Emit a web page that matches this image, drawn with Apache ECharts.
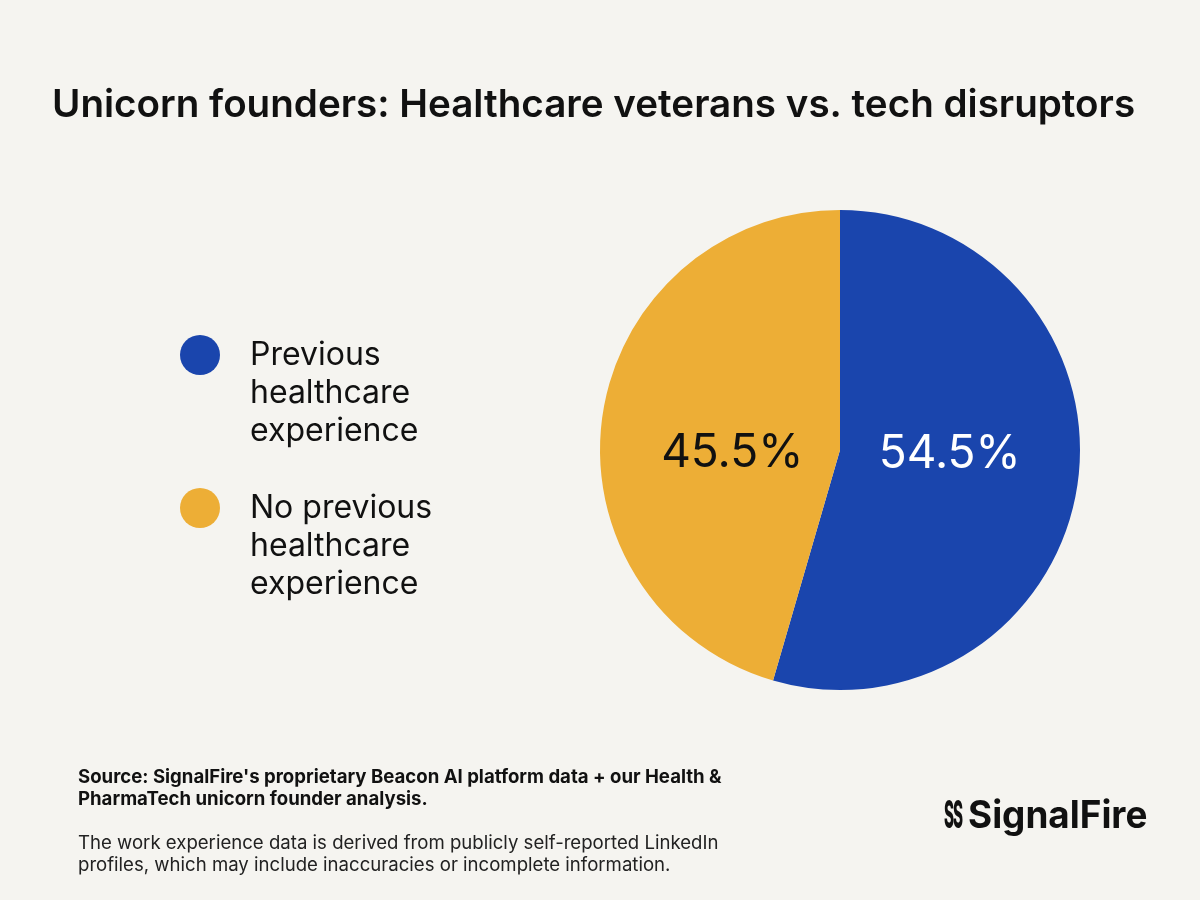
<!DOCTYPE html>
<html>
<head>
<meta charset="utf-8">
<script src="https://cdn.jsdelivr.net/npm/echarts@6/dist/echarts.min.js"></script>
<style>
  html, body { margin: 0; padding: 0; background: #f5f4f0; }
  #chart { width: 1200px; height: 900px; }
</style>
</head>
<body>
<div id="chart"></div>
<script>
// data
const categories = ['Previous\nhealthcare\nexperience', 'No previous\nhealthcare\nexperience']
const shares = [54.5, 45.5]
const colors = ['#1a45ad', '#edae36']
const labelColors = ['#ffffff', '#111111']

const titleText = 'Unicorn founders: Healthcare veterans vs. tech disruptors'
const sourceLines = [
  "Source: SignalFire's proprietary Beacon AI platform data + our Health &",
  'PharmaTech unicorn founder analysis.'
]
const noteLines = [
  'The work experience data is derived from publicly self-reported LinkedIn',
  'profiles, which may include inaccuracies or incomplete information.'
]

const font = 'Inter, "Noto Sans", sans-serif'
const chart = echarts.init(document.getElementById('chart'))

// one legend per item; two blank lines first so the dot sits on the first text line
const legendTops = [260, 413]
const legends = categories.map((name, i) => ({
  orient: 'vertical',
  left: 180,
  top: legendTops[i],
  padding: 0,
  icon: 'circle',
  itemWidth: 40,
  itemHeight: 40,
  selectedMode: false,
  data: [name],
  formatter: (n) => '\n\n' + n,
  textStyle: {
    fontFamily: font,
    fontSize: 32,
    lineHeight: 38,
    color: '#111',
    padding: [0, 0, 0, 25]
  }
}))

let option = {
  backgroundColor: '#f5f4f0',
  animation: false,
  title: {
    text: titleText,
    left: 47,
    top: 81,
    textStyle: { fontFamily: font, fontSize: 38.6, fontWeight: 600, color: '#111' }
  },
  legend: legends,
  graphic: [
    {
      type: 'text', left: 78, top: 766,
      style: { text: sourceLines.join('\n'), font: '700 18.6px ' + font, lineHeight: 22, fill: '#111' }
    },
    {
      type: 'text', left: 78, top: 832,
      style: { text: noteLines.join('\n'), font: '400 18.6px ' + font, lineHeight: 22, fill: '#222' }
    },
    // logo mark: two narrow S shapes, then the wordmark
    {
      type: 'text', x: 944, y: 798, scaleX: 0.4,
      style: { text: 'S', font: '800 38px ' + font, fill: '#111' }
    },
    {
      type: 'text', x: 953, y: 798, scaleX: 0.4,
      style: { text: 'S', font: '800 38px ' + font, fill: '#111' }
    },
    {
      type: 'text', x: 968, y: 798, scaleX: 0.97,
      style: { text: 'SignalFire', font: '700 38px ' + font, fill: '#111' }
    }
  ],
  series: [{
    type: 'pie',
    center: [840, 450],
    radius: [0, 240],
    startAngle: 90,
    clockwise: true,
    silent: true,
    label: {
      show: true,
      position: 'inside',
      fontFamily: font,
      fontSize: 46,
      formatter: (p) => p.value + '%'
    },
    labelLine: { show: false },
    labelLayout: (p) => ({ dy: p.dataIndex === 0 ? -13 : 21, dx: p.dataIndex === 0 ? -12 : 14 }),
    data: categories.map((name, i) => ({
      name: name,
      value: shares[i],
      itemStyle: { color: colors[i] },
      label: { color: labelColors[i] }
    }))
  }]
}
chart.setOption(option)
</script>
</body>
</html>
